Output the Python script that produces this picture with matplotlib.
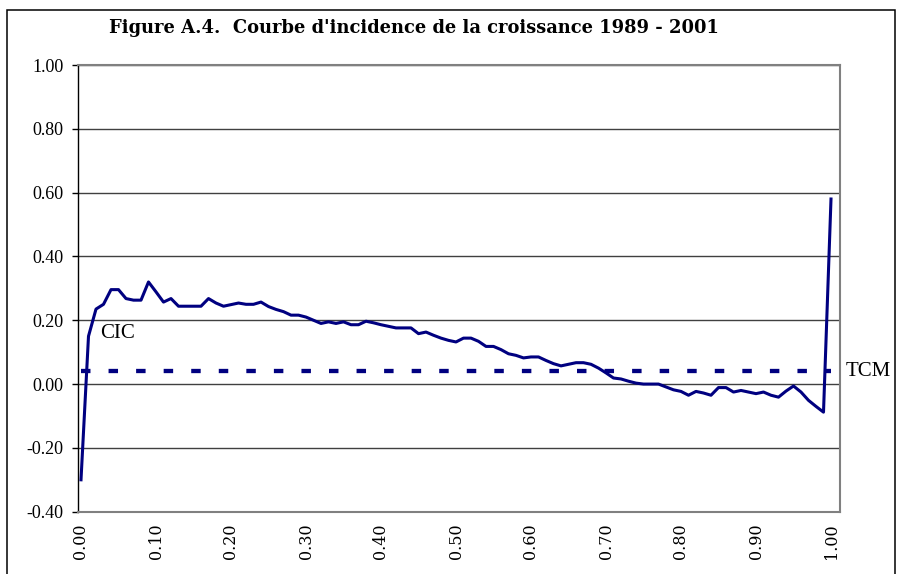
import numpy as np
import matplotlib
matplotlib.use("Agg")
import matplotlib.pyplot as plt
from matplotlib.patches import Rectangle

# percentiles 0.00 .. 1.00 (one category per centile)
percentiles = np.round(np.arange(101) * 0.01, 2)

# courbe d'incidence de la croissance (CIC)
cic = [-0.300, 0.150, 0.235, 0.250, 0.296, 0.296, 0.268, 0.263, 0.263, 0.320,
       0.289, 0.257, 0.268, 0.244, 0.244, 0.244, 0.244, 0.268, 0.254, 0.244,
       0.249, 0.254, 0.250, 0.250, 0.257, 0.243, 0.234, 0.227, 0.216, 0.216,
       0.210, 0.200, 0.190, 0.195, 0.190, 0.195, 0.186, 0.186, 0.197, 0.192,
       0.186, 0.181, 0.176, 0.176, 0.176, 0.158, 0.163, 0.153, 0.144, 0.137,
       0.132, 0.144, 0.144, 0.134, 0.118, 0.118, 0.108, 0.095, 0.090, 0.082,
       0.085, 0.085, 0.074, 0.064, 0.057, 0.062, 0.067, 0.067, 0.062, 0.050,
       0.035, 0.019, 0.016, 0.009, 0.003, 0.000, 0.000, 0.000, -0.009, -0.018,
       -0.023, -0.035, -0.023, -0.028, -0.035, -0.011, -0.011, -0.025, -0.020, -0.025,
       -0.030, -0.025, -0.035, -0.041, -0.022, -0.006, -0.025, -0.051, -0.070, -0.088,
       0.580]

# taux de croissance moyen
tcm = 0.04

y_ticks = [-0.40, -0.20, 0.00, 0.20, 0.40, 0.60, 0.80, 1.00]
x_ticks = [0.0, 0.1, 0.2, 0.3, 0.4, 0.5, 0.6, 0.7, 0.8, 0.9, 1.0]

title = "Figure A.4.  Courbe d'incidence de la croissance 1989 - 2001"

navy = "#000080"

fig = plt.figure(figsize=(9.01, 5.74), dpi=100)
ax = fig.add_axes([78 / 901, 1 - 511.7 / 574, (840 - 78) / 901, (511.7 - 65) / 574])

ax.plot(percentiles, [tcm] * len(percentiles), color=navy, lw=3.1,
        linestyle=(0, (2.2, 4.2)), dash_capstyle="butt", zorder=3)
ax.plot(percentiles, cic, color=navy, lw=2.2, zorder=4)

ax.set_xlim(-0.004, 1.012)
ax.set_ylim(-0.40, 1.00)
ax.set_yticks(y_ticks)
ax.set_yticklabels([f"{v:.2f}" for v in y_ticks], family="Liberation Serif", fontsize=13)
ax.set_xticks(x_ticks)
ax.set_xticklabels([f"{v:.2f}" for v in x_ticks], family="DejaVu Serif",
                   fontsize=11.5, rotation=90)
ax.tick_params(axis="y", length=4.3, width=1, color="black", pad=6)
ax.tick_params(axis="x", length=0, pad=8.5)

ax.grid(axis="y", color="#404040", lw=1.0)
ax.set_axisbelow(True)
for side in ["top", "right", "bottom"]:
    ax.spines[side].set_color("#808080")
    ax.spines[side].set_linewidth(1.5)
ax.spines["left"].set_color("black")
ax.spines["left"].set_linewidth(1.0)

ax.text(0.026, 0.159, "CIC", family="Liberation Serif", fontsize=15, va="center", ha="left")
ax.text(1.019, tcm, "TCM", family="Liberation Serif", fontsize=15, va="center", ha="left",
        clip_on=False)

fig.text(413.5 / 901, 1 - 28 / 574, title, family="DejaVu Serif", fontweight="bold",
         fontsize=12.9, ha="center", va="center")

fig.patches.append(Rectangle((6.5 / 901, -0.05), (895 - 6.5) / 901, 1.05 - 10 / 574,
                             transform=fig.transFigure, fill=False, ec="black", lw=1.1))

fig.savefig("out.png", dpi=100)
